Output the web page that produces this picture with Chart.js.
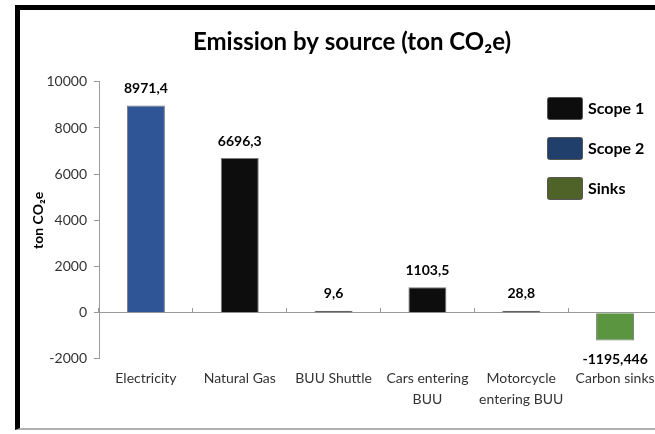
<!DOCTYPE html>
<html>
<head>
<meta charset="utf-8">
<script src="https://cdn.jsdelivr.net/npm/chart.js@4/dist/chart.umd.min.js"></script>
<style>
  html, body { margin: 0; padding: 0; background: #fff; width: 655px; height: 434px; overflow: hidden; position: relative; }
  #wrap { position: absolute; left: 0; top: 10px; width: 704px; height: 418px; }
  #frame { position: absolute; left: 15px; top: 5px; width: 700px; height: 418px;
           border-left: 5px solid #000; border-top: 5px solid #000; border-bottom: 2px solid #b0b0b0;
           pointer-events: none; }
</style>
</head>
<body>
<div id="wrap"><canvas id="c" width="704" height="418"></canvas></div>
<div id="frame"></div>
<script>
// ---- data ----
const categories = ['Electricity', 'Natural Gas', 'BUU Shuttle', ['Cars entering', 'BUU'], ['Motorcycle', 'entering BUU'], 'Carbon sinks'];
const scope1 = [null, 6696.3, 9.6, 1103.5, 28.8, null];
const scope2 = [8971.4, null, null, null, null, null];
const sinks  = [null, null, null, null, null, -1195.446];
const seriesNames = ['Scope 1', 'Scope 2', 'Sinks'];
const yTicks = [-2000, 0, 2000, 4000, 6000, 8000, 10000];

const FONT = 'Lato, "Liberation Sans", sans-serif';
const barColors = ['#0d0d0d', '#2f5597', '#5b9540'];
const legendColors = ['#0d0d0d', '#203f6a', '#4f6228'];

const fmt = v => String(v).replace('.', ',');

const valueLabels = {
  id: 'valueLabels',
  afterDatasetsDraw(chart) {
    const ctx = chart.ctx;
    ctx.save();
    ctx.font = 'bold 14px ' + FONT;
    ctx.fillStyle = '#000';
    ctx.textAlign = 'center';
    ctx.textBaseline = 'middle';
    chart.data.datasets.forEach((ds, di) => {
      const meta = chart.getDatasetMeta(di);
      meta.data.forEach((el, i) => {
        const v = ds.data[i];
        if (v === null || v === undefined) return;
        const y = v >= 0 ? el.y - 17 : el.y + 19;
        ctx.fillText(fmt(v), el.x, y);
      });
    });
    ctx.restore();
  }
};

const boxLegend = {
  id: 'boxLegend',
  afterDraw(chart) {
    const ctx = chart.ctx;
    ctx.save();
    ctx.font = 'bold 16px ' + FONT;
    ctx.textAlign = 'left';
    ctx.textBaseline = 'middle';
    chart.data.datasets.forEach((ds, i) => {
      const x = 547, y = 87 + i * 40, w = 35, h = 22;
      ctx.fillStyle = legendColors[i];
      ctx.strokeStyle = '#555';
      ctx.lineWidth = 1;
      ctx.beginPath();
      ctx.roundRect(x + 0.5, y + 0.5, w, h, 2);
      ctx.fill();
      ctx.stroke();
      ctx.fillStyle = '#000';
      ctx.fillText(ds.label, x + 41, y + h / 2 + 1);
    });
    ctx.restore();
  }
};

const mkDs = (label, data, color) => ({
  label, data,
  backgroundColor: color,
  borderColor: '#7a7a7a',
  borderWidth: 1,
  barPercentage: 0.405,
  categoryPercentage: 1,
  minBarLength: 2,
  grouped: false,
  xAxisID: 'x'
});

new Chart(document.getElementById('c'), {
  type: 'bar',
  data: {
    labels: categories,
    datasets: [
      mkDs(seriesNames[0], scope1, barColors[0]),
      mkDs(seriesNames[1], scope2, barColors[1]),
      mkDs(seriesNames[2], sinks, barColors[2])
    ]
  },
  options: {
    responsive: false,
    animation: false,
    layout: { padding: { left: 42, right: 42, top: 8, bottom: 17 } },
    plugins: {
      legend: { display: false },
      tooltip: { enabled: false },
      title: {
        display: true,
        text: 'Emission by source (ton CO₂e)',
        color: '#000',
        font: { family: FONT, size: 24, weight: 'bold' },
        padding: { top: 10, bottom: 25 }
      }
    },
    scales: {
      x: {
        type: 'category',
        offset: true,
        grid: { display: false },
        border: { display: false },
        ticks: { color: '#333', font: { family: FONT, size: 14, lineHeight: 1.43 }, padding: 2, maxRotation: 0, autoSkip: false }
      },
      x2: {
        type: 'category',
        position: { y: 0 },
        offset: true,
        grid: { offset: true, drawOnChartArea: false, drawTicks: true, tickLength: -5, color: '#999', lineWidth: 1 },
        border: { display: true, color: '#999', width: 1 },
        ticks: { display: false }
      },
      y: {
        min: -2000,
        max: 10000,
        afterBuildTicks(s) { s.ticks = yTicks.map(v => ({ value: v })); },
        afterFit(s) { s.width = 57; },
        grid: { drawOnChartArea: false, drawTicks: true, tickLength: 5, color: '#999' },
        border: { display: true, color: '#999', width: 1 },
        ticks: { color: '#333', font: { family: FONT, size: 14 }, padding: 7, callback: v => String(v) },
        title: {
          display: true,
          text: 'ton CO₂e',
          color: '#000',
          font: { family: FONT, size: 14, weight: 'bold' },
          padding: { top: -12, bottom: 0 }
        }
      }
    }
  },
  plugins: [valueLabels, boxLegend]
});
</script>
</body>
</html>
